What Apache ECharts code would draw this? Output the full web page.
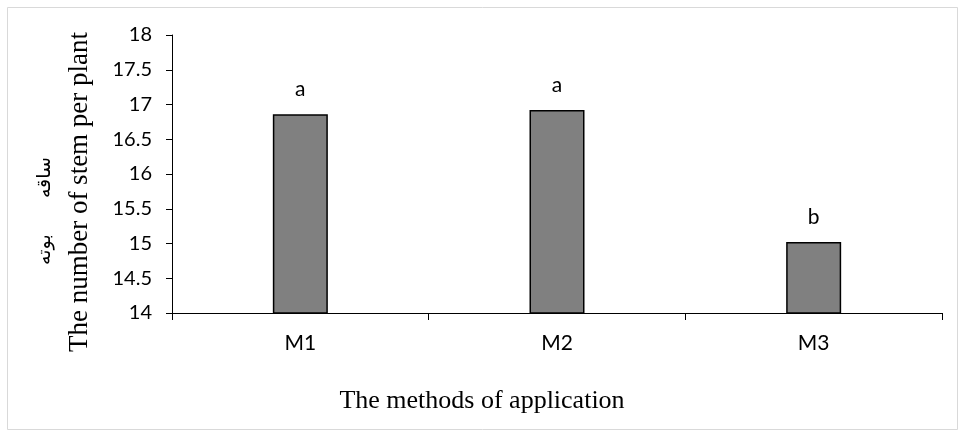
<!DOCTYPE html>
<html>
<head>
<meta charset="utf-8">
<script src="https://cdn.jsdelivr.net/npm/echarts@6/dist/echarts.min.js"></script>
<style>
html,body{margin:0;padding:0;background:#fff;}
#chart{width:960px;height:432px;}
</style>
</head>
<body>
<div id="chart"></div>
<script>
var categories = ['M1', 'M2', 'M3'];
var values = [16.86, 16.92, 15.02];
var letters = ['a', 'a', 'b'];
var yTitle = 'The number of stem per plant';
var yTitleFa = 'ساقه      بوته';
var xTitle = 'The methods of application';

var chart = echarts.init(document.getElementById('chart'));
chart.setOption({
  animation: false,
  backgroundColor: '#fff',
  grid: {left: 172, right: 18, top: 35, bottom: 119},
  graphic: [
    {type: 'rect', left: 5, top: 5, shape: {width: 950, height: 422},
     style: {fill: 'none', stroke: '#d9d9d9', lineWidth: 1}, silent: true},
    {type: 'text', x: 45, y: 211, rotation: Math.PI / 2,
     style: {text: yTitleFa, font: '19px "DejaVu Sans", sans-serif', fill: '#000',
             align: 'center', verticalAlign: 'middle'}},
    {type: 'text', x: 80, y: 192, rotation: Math.PI / 2,
     style: {text: yTitle, font: '27px "Liberation Serif", serif', fill: '#000',
             align: 'center', verticalAlign: 'middle'}},
    {type: 'text', x: 482, y: 401,
     style: {text: xTitle, font: '26px "Liberation Serif", serif', fill: '#000',
             align: 'center', verticalAlign: 'middle'}}
  ],
  xAxis: {
    type: 'category',
    data: categories,
    axisLine: {lineStyle: {color: '#000', width: 1}},
    axisTick: {show: true, length: 7, lineStyle: {color: '#000'}},
    axisLabel: {color: '#000', fontSize: 21, fontFamily: 'Lato', margin: 20}
  },
  yAxis: {
    type: 'value',
    min: 14, max: 18, interval: 0.5,
    axisLine: {show: true, lineStyle: {color: '#000', width: 1}},
    axisTick: {show: true, length: 6, lineStyle: {color: '#000'}},
    splitLine: {show: false},
    axisLabel: {color: '#000', fontSize: 20, fontFamily: 'Lato', margin: 20}
  },
  series: [{
    type: 'bar',
    data: values,
    barWidth: 55,
    itemStyle: {color: '#808080', borderColor: '#000', borderWidth: 1.5},
    label: {
      show: true, position: 'top', distance: 14,
      color: '#000', fontSize: 21, fontFamily: 'Lato',
      formatter: function (p) { return letters[p.dataIndex]; }
    }
  }]
});
</script>
</body>
</html>
